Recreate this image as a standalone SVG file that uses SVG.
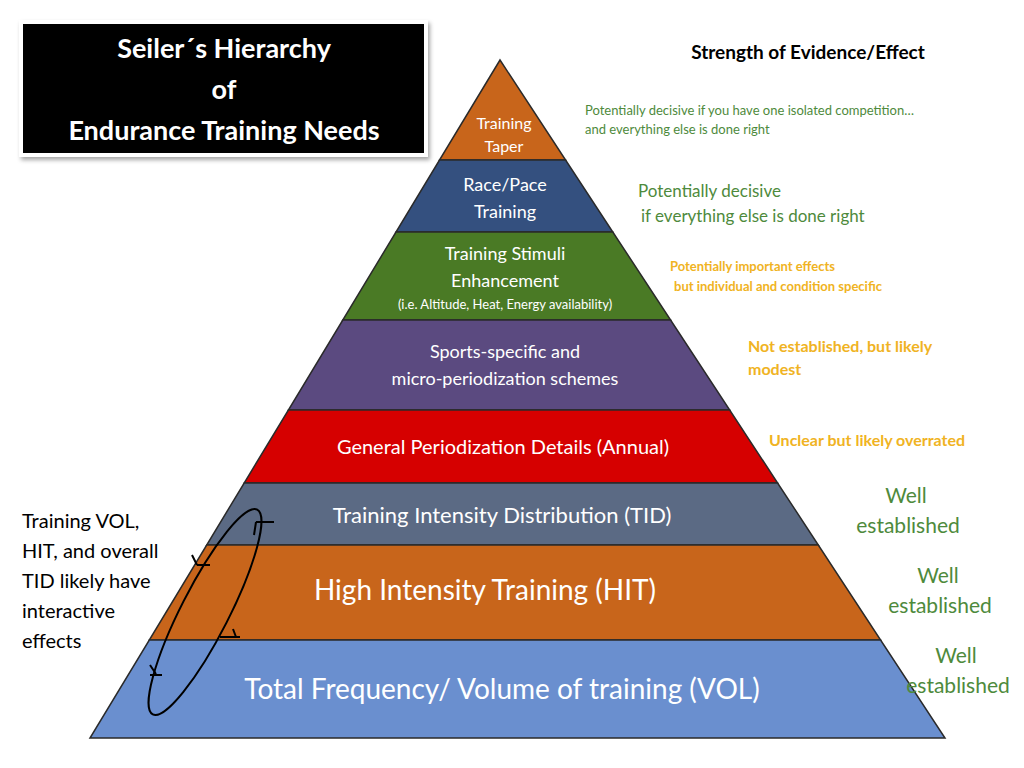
<svg xmlns="http://www.w3.org/2000/svg" width="1024" height="768" viewBox="0 0 1024 768">
<style>
text{font-family:Lato,"Open Sans","Liberation Sans",sans-serif}
.w{fill:#fff;text-anchor:middle}
.lay{stroke:#2a2a2a;stroke-width:1.5}
.g{fill:#4e8a3c}
.y{fill:#f0b323;font-weight:bold}
.tick{stroke:#000;stroke-width:2;fill:none}
</style>
<defs><filter id="sh"><feDropShadow dx="2" dy="3" stdDeviation="2" flood-opacity="0.35"/></filter></defs>
<rect width="1024" height="768" fill="#fff"/>
<g id="title">
<rect x="19" y="20" width="409" height="137" fill="#fff" filter="url(#sh)"/>
<rect x="23" y="24" width="401" height="129" fill="#000"/>
<text class="w" x="224" y="58" font-size="27" font-weight="bold">Seiler´s Hierarchy</text>
<text class="w" x="224" y="99" font-size="27" font-weight="bold">of</text>
<text class="w" x="224" y="140" font-size="27" font-weight="bold">Endurance Training Needs</text>
</g>
<text x="808" y="59" font-size="19" font-weight="bold" text-anchor="middle" fill="#000">Strength of Evidence/Effect</text>
<g id="taper"><polygon class="lay" points="500,60 565.6,160 439.5,160" fill="#c8651b"/>
<text class="w" x="504" y="129" font-size="16">Training</text><text class="w" x="504" y="152" font-size="16">Taper</text></g>
<g id="race"><polygon class="lay" points="439.5,160 565.6,160 612.8,232 396,232" fill="#34507f"/>
<text class="w" x="505" y="191" font-size="18">Race/Pace</text><text class="w" x="505" y="218" font-size="18">Training</text></g>
<g id="stimuli"><polygon class="lay" points="396,232 612.8,232 670.6,320 342.8,320" fill="#4a7a25"/>
<text class="w" x="505" y="260" font-size="18">Training Stimuli</text><text class="w" x="505" y="287" font-size="18">Enhancement</text>
<text class="w" x="505" y="309" font-size="13">(i.e. Altitude, Heat, Energy availability)</text></g>
<g id="sports"><polygon class="lay" points="342.8,320 670.6,320 729.7,410 288.4,410" fill="#5b4a80"/>
<text class="w" x="505" y="358" font-size="18">Sports-specific and</text><text class="w" x="505" y="385" font-size="18">micro-periodization schemes</text></g>
<g id="general"><polygon class="lay" points="288.4,410 729.7,410 777.6,483 244.2,483" fill="#d60000"/>
<text class="w" x="503" y="454" font-size="20">General Periodization Details (Annual)</text></g>
<g id="tid"><polygon class="lay" points="244.2,483 777.6,483 818.3,545 206.7,545" fill="#5b6a84"/>
<text class="w" x="502" y="523" font-size="22">Training Intensity Distribution (TID)</text></g>
<g id="hit"><polygon class="lay" points="206.7,545 818.3,545 880.6,640 149.3,640" fill="#c8651b"/>
<text class="w" x="485" y="600" font-size="28">High Intensity Training (HIT)</text></g>
<g id="vol"><polygon class="lay" points="149.3,640 880.6,640 945,738 90,738" fill="#6a8fcf"/>
<text class="w" x="502" y="699" font-size="28">Total Frequency/ Volume of training (VOL)</text></g>
<g id="connectors">
<ellipse cx="205" cy="612" rx="24" ry="115" transform="rotate(27 205 612)" fill="none" stroke="#000" stroke-width="2"/>
<path class="tick" d="M256,522 L274,522 M256,522 L254,535"/>
<path class="tick" d="M197,565 L210,565 M197,565 L192,555"/>
<path class="tick" d="M233,629 L236,637 M220,637 L240,637"/>
<path class="tick" d="M156,674 L150,665 M150,675 L162,675"/>
</g>
<g id="note" font-size="20" fill="#000">
<text x="22" y="528">Training VOL,</text><text x="22" y="558">HIT, and overall</text>
<text x="22" y="588">TID likely have</text><text x="22" y="618">interactive</text><text x="22" y="648">effects</text>
</g>
<g id="evidence">
<text class="g" x="585" y="115" font-size="13">Potentially decisive if you have one isolated competition…</text>
<text class="g" x="585" y="134" font-size="13">and everything else is done right</text>
<text class="g" x="638" y="197" font-size="17">Potentially decisive</text>
<text class="g" x="641" y="222" font-size="17">if everything else is done right</text>
<text class="y" x="670" y="271" font-size="13">Potentially important effects</text>
<text class="y" x="674" y="291" font-size="13">but individual and condition specific</text>
<text class="y" x="748" y="352" font-size="16">Not established, but likely</text>
<text class="y" x="748" y="375" font-size="16">modest</text>
<text class="y" x="769" y="446" font-size="16">Unclear but likely overrated</text>
<text class="g" x="906" y="503" font-size="21" text-anchor="middle">Well</text>
<text class="g" x="908" y="533" font-size="21" text-anchor="middle">established</text>
<text class="g" x="938" y="583" font-size="21" text-anchor="middle">Well</text>
<text class="g" x="940" y="613" font-size="21" text-anchor="middle">established</text>
<text class="g" x="956" y="663" font-size="21" text-anchor="middle">Well</text>
<text class="g" x="958" y="693" font-size="21" text-anchor="middle">established</text>
</g>
</svg>
